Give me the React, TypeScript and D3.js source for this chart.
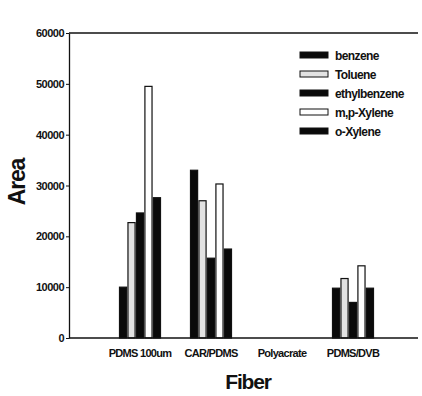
import React, { useRef, useEffect } from 'react'
import * as d3 from 'd3'

const categories = ['PDMS 100um', 'CAR/PDMS', 'Polyacrate', 'PDMS/DVB']
const seriesNames = ['benzene', 'Toluene', 'ethylbenzene', 'm,p-Xylene', 'o-Xylene']
const benzene = [10000, 33000, 0, 9800]
const toluene = [22700, 27000, 0, 11700]
const ethylbenzene = [24600, 15700, 0, 7000]
const mpXylene = [49500, 30300, 0, 14200]
const oXylene = [27600, 17500, 0, 9800]
const yTicks = [0, 10000, 20000, 30000, 40000, 50000, 60000]

const seriesValues = [benzene, toluene, ethylbenzene, mpXylene, oXylene]
const fills = ['#0a0a0a', '#e2e2e2', '#0a0a0a', '#ffffff', '#0a0a0a']

const App: React.FC = () => {
  const svgRef = useRef<SVGSVGElement>(null)

  useEffect(() => {
    if (!svgRef.current) return
    const svg = d3.select(svgRef.current)
    svg.selectAll('*').remove()

    const left = 69
    const right = 418
    const top = 33
    const bottom = 338

    const x = d3.scalePoint<string>()
      .domain(categories)
      .range([left, 424])
      .padding(1)

    const inner = d3.scaleBand<string>()
      .domain(seriesNames)
      .range([-20.5, 20.5])
      .paddingInner(0.16)

    const y = d3.scaleLinear()
      .domain([0, 60000])
      .range([bottom, top])

    const font = '"Liberation Sans", Arial, sans-serif'

    // bars
    seriesNames.forEach((name, si) => {
      svg.append('g')
        .selectAll('rect')
        .data(seriesValues[si].map((v, i) => ({ cat: categories[i], v })))
        .enter()
        .filter(d => d.v > 0)
        .append('rect')
        .attr('x', d => (x(d.cat) as number) + (inner(name) as number))
        .attr('y', d => y(d.v))
        .attr('width', inner.bandwidth())
        .attr('height', d => y(0) - y(d.v))
        .attr('fill', fills[si])
        .attr('stroke', '#111')
        .attr('stroke-width', 1.2)
    })

    // frame lines
    svg.append('line')
      .attr('x1', left).attr('x2', right)
      .attr('y1', top).attr('y2', top)
      .attr('stroke', '#111').attr('stroke-width', 1.3)
    svg.append('line')
      .attr('x1', left).attr('x2', right)
      .attr('y1', bottom).attr('y2', bottom)
      .attr('stroke', '#111').attr('stroke-width', 1.3)

    // y axis
    const yAxis = svg.append('g')
      .attr('transform', `translate(${left},0)`)
      .call(d3.axisLeft(y).tickValues(yTicks).tickSize(3).tickSizeOuter(0).tickPadding(2).tickFormat(d => String(d)))
    yAxis.select('.domain').attr('stroke', '#111').attr('stroke-width', 1.3)
    yAxis.selectAll('line').attr('stroke', '#111')
    yAxis.selectAll('text')
      .attr('font-family', font)
      .attr('font-weight', 'bold')
      .attr('font-size', 11)
      .attr('letter-spacing', -0.5)
      .attr('fill', '#111')

    // x tick labels
    svg.append('g')
      .selectAll('text')
      .data(categories)
      .enter()
      .append('text')
      .attr('x', d => x(d) as number)
      .attr('y', 357)
      .attr('text-anchor', 'middle')
      .attr('font-family', font)
      .attr('font-weight', 'bold')
      .attr('font-size', 11)
      .attr('letter-spacing', -0.7)
      .attr('fill', '#111')
      .text(d => d)

    // axis titles
    svg.append('text')
      .attr('transform', `translate(25,182) rotate(-90)`)
      .attr('text-anchor', 'middle')
      .attr('font-family', font)
      .attr('font-weight', 'bold')
      .attr('font-size', 23)
      .attr('letter-spacing', -1.2)
      .attr('fill', '#111')
      .text('Area')

    svg.append('text')
      .attr('x', 248)
      .attr('y', 389)
      .attr('text-anchor', 'middle')
      .attr('font-family', font)
      .attr('font-weight', 'bold')
      .attr('font-size', 21)
      .attr('letter-spacing', -1.2)
      .attr('fill', '#111')
      .text('Fiber')

    // legend
    const legend = svg.append('g').attr('transform', 'translate(300,55)')
    seriesNames.forEach((name, i) => {
      const row = legend.append('g').attr('transform', `translate(0,${i * 19})`)
      row.append('rect')
        .attr('x', 0).attr('y', -3)
        .attr('width', 28).attr('height', 6)
        .attr('fill', fills[i])
        .attr('stroke', '#111')
      row.append('text')
        .attr('x', 35).attr('y', 4.5)
        .attr('font-family', font)
        .attr('font-weight', 'bold')
        .attr('font-size', 12)
        .attr('letter-spacing', -0.6)
        .attr('fill', '#111')
        .text(name)
    })
  }, [])

  return (
    <svg
      ref={svgRef}
      width={422}
      height={396}
      style={{ position: 'absolute', left: 0, top: 0, background: '#fff' }}
    ></svg>
  )
}

export default App
